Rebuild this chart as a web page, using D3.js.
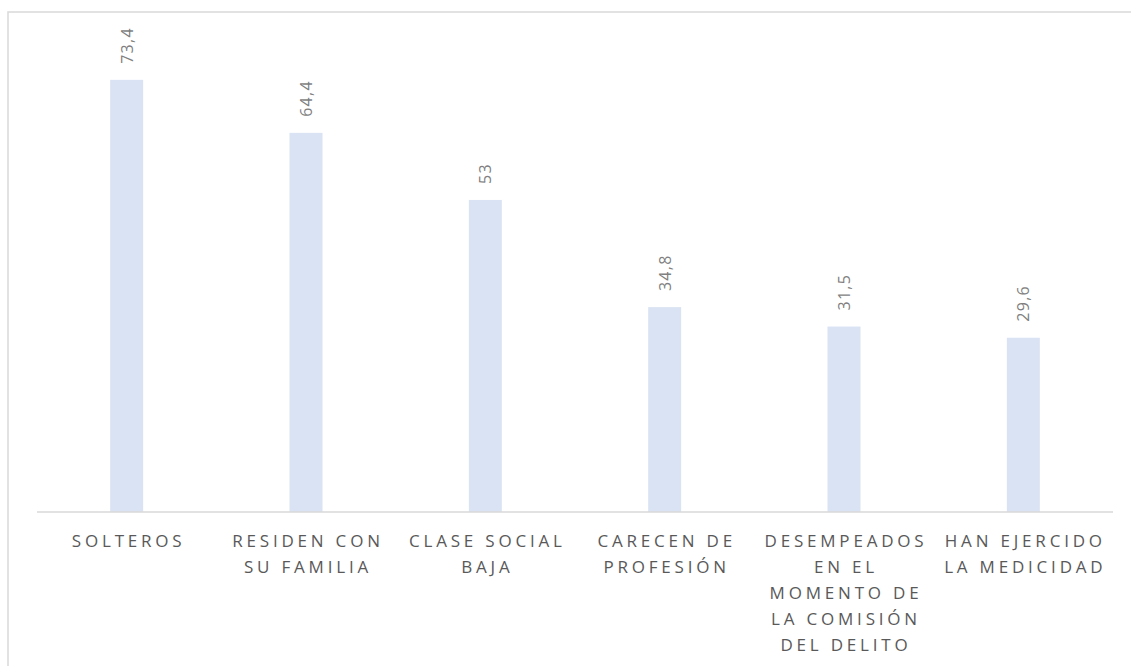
<!DOCTYPE html>
<html>
<head>
  <meta charset="utf-8">
  <script src="https://d3js.org/d3.v7.min.js"></script>
  <style>
    body { margin: 0; background: #fff; }
    svg { display: block; }
  </style>
</head>
<body>
  <script>
    // categories and values
    var categories = [
      "SOLTEROS",
      "RESIDEN CON SU FAMILIA",
      "CLASE SOCIAL BAJA",
      "CARECEN DE PROFESIÓN",
      "DESEMPEADOS EN EL MOMENTO DE LA COMISIÓN DEL DELITO",
      "HAN EJERCIDO LA MEDICIDAD"
    ];
    var values = [73.4, 64.4, 53, 34.8, 31.5, 29.6];
    var valueLabels = ["73,4", "64,4", "53", "34,8", "31,5", "29,6"];
    var yDomain = [0, 80];

    var width = 1131, height = 666;

    var svg = d3.select("body")
      .append("svg")
        .attr("width", width)
        .attr("height", height);

    // chart frame (runs off the right and bottom edge)
    svg.append("rect")
      .attr("x", 8)
      .attr("y", 12)
      .attr("width", 1300)
      .attr("height", 800)
      .attr("fill", "none")
      .attr("stroke", "#d9d9d9")
      .attr("stroke-width", 1.5);

    var x = d3.scaleBand()
      .domain(categories)
      .range([37, 1113])
      .paddingInner(0.816)
      .paddingOuter(0.408);

    var y = d3.scaleLinear()
      .domain(yDomain)
      .range([512, 41]);

    // bars
    svg.selectAll(".bar")
      .data(values)
      .enter().append("rect")
        .attr("class", "bar")
        .attr("x", function(d, i) { return x(categories[i]); })
        .attr("y", function(d) { return y(d); })
        .attr("width", x.bandwidth())
        .attr("height", function(d) { return y(0) - y(d); })
        .attr("fill", "#dae3f3");

    // value labels, rotated
    svg.selectAll(".val")
      .data(values)
      .enter().append("text")
        .attr("class", "val")
        .attr("transform", function(d, i) {
          var cx = x(categories[i]) + x.bandwidth() / 2;
          return "translate(" + cx + "," + (y(d) - 16) + ") rotate(-90)";
        })
        .attr("dominant-baseline", "central")
        .style("font-family", "'Open Sans', sans-serif")
        .style("font-size", "16px")
        .style("letter-spacing", "1.3px")
        .style("fill", "#7f7f7f")
        .text(function(d, i) { return valueLabels[i]; });

    // x axis line
    svg.append("line")
      .attr("x1", 37)
      .attr("x2", 1113)
      .attr("y1", y(0))
      .attr("y2", y(0))
      .attr("stroke", "#d9d9d9")
      .attr("stroke-width", 1.5);

    // category labels, wrapped to the band width
    var measure = svg.append("text")
      .style("font-family", "'Open Sans', sans-serif")
      .style("font-size", "17px")
      .style("letter-spacing", "4px");

    function wrap(label, maxW) {
      var words = label.split(" "), lines = [], cur = "";
      words.forEach(function(w) {
        var test = cur ? cur + " " + w : w;
        measure.text(test);
        if (cur && measure.node().getComputedTextLength() > maxW) {
          lines.push(cur);
          cur = w;
        } else {
          cur = test;
        }
      });
      if (cur) lines.push(cur);
      return lines;
    }

    categories.forEach(function(c) {
      var lines = wrap(c, x.step() - 6);
      var t = svg.append("text")
        .attr("text-anchor", "middle")
        .style("font-family", "'Open Sans', sans-serif")
        .style("font-size", "17px")
        .style("letter-spacing", "3.8px")
        .style("fill", "#595959");
      lines.forEach(function(line, k) {
        t.append("tspan")
          .attr("x", x(c) + x.bandwidth() / 2 + 2)
          .attr("y", y(0) + 35 + k * 26)
          .text(line);
      });
    });
    measure.remove();
  </script>
</body>
</html>
